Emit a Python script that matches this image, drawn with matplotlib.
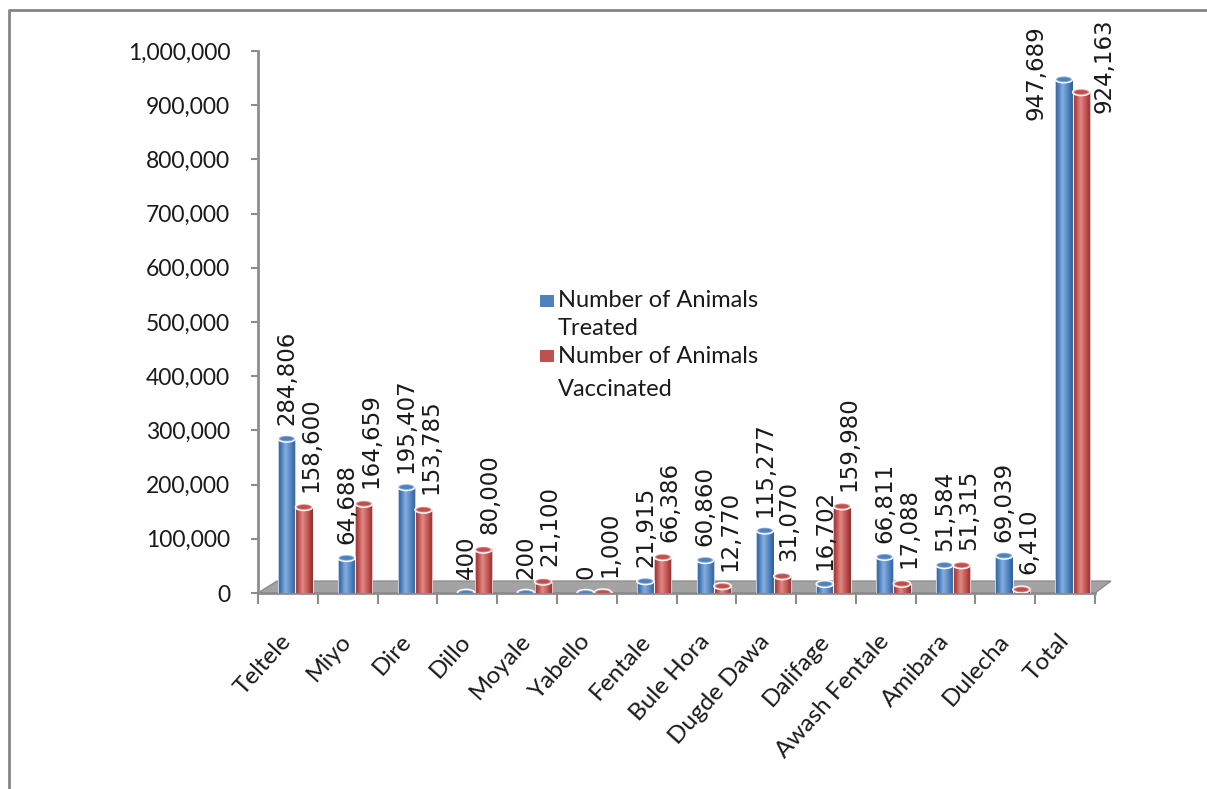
import matplotlib.pyplot as plt
import numpy as np
from matplotlib.colors import LinearSegmentedColormap
from matplotlib.patches import Ellipse, Polygon, Rectangle
from matplotlib.lines import Line2D

# data
districts = ['Teltele', 'Miyo', 'Dire', 'Dillo', 'Moyale', 'Yabello', 'Fentale',
             'Bule Hora', 'Dugde Dawa', 'Dalifage', 'Awash Fentale', 'Amibara',
             'Dulecha', 'Total']
treated = [284806, 64688, 195407, 400, 200, 0, 21915, 60860, 115277, 16702,
           66811, 51584, 69039, 947689]
vaccinated = [158600, 164659, 153785, 80000, 21100, 1000, 66386, 12770, 31070,
              159980, 17088, 51315, 6410, 924163]
series_names = ['Number of Animals\nTreated', 'Number of Animals\nVaccinated']

W, H = 1207, 789
BLUE = ('#2c5a94', '#4a7dbc', '#86aee0', '#4f81bd', '#2c5a94')
RED = ('#8a2b29', '#bd4c49', '#e08a87', '#c0504d', '#8a2b29')
GRID_GRAY = '#8c8c8c'
TXT = '#1a1a1a'

fig = plt.figure(figsize=(W / 100, H / 100), dpi=100)
fig.patch.set_facecolor('white')

# axes placed by pixel box of the reference plot area
x0, x1, y0, y1 = 258, 1095, 51, 593
ax = fig.add_axes([x0 / W, 1 - y1 / H, (x1 - x0) / W, (y1 - y0) / H])
ax.set_facecolor('none')

n = len(districts)
bw = 0.29
ymax = 1_000_000
cap_h = ymax * 7 / (y1 - y0)   # ellipse height ~7px


def cyl(xc, val, cols):
    cmap = LinearSegmentedColormap.from_list('c', list(zip([0, 0.18, 0.42, 0.75, 1], cols)))
    grad = np.linspace(0, 1, 64).reshape(1, -1)
    ax.imshow(grad, cmap=cmap, extent=[xc - bw / 2, xc + bw / 2, 0, val],
              aspect='auto', zorder=3, interpolation='bilinear')
    ax.plot([xc - bw / 2, xc - bw / 2], [0, val], color='white', lw=0.8, alpha=0.7, zorder=3.5)
    ax.plot([xc + bw / 2, xc + bw / 2], [0, val], color='white', lw=0.8, alpha=0.7, zorder=3.5)
    ax.add_patch(Ellipse((xc, val), bw, cap_h, facecolor=cols[2], edgecolor='white',
                         lw=1.0, zorder=4))
    ax.add_patch(Ellipse((xc, val), bw * 0.75, cap_h * 0.55, facecolor=cols[3],
                         edgecolor='none', zorder=4.1))


xs_t = np.arange(n) + 0.48
xs_v = xs_t + bw

for i in range(n):
    cyl(xs_t[i], treated[i], BLUE)
    cyl(xs_v[i], vaccinated[i], RED)

# data labels
for i in range(n):
    if i == n - 1:
        ax.text(xs_t[i] - 0.46, ymax * 0.872, f'{treated[i]:,}', rotation=90,
                ha='center', va='bottom', fontsize=16.5, color=TXT, clip_on=False)
        ax.text(xs_v[i] + 0.38, ymax * 0.885, f'{vaccinated[i]:,}', rotation=90,
                ha='center', va='bottom', fontsize=16.5, color=TXT, clip_on=False)
        continue
    ax.annotate(f'{treated[i]:,}', (xs_t[i], treated[i]), xytext=(0, 10),
                textcoords='offset points', rotation=90, ha='center', va='bottom',
                fontsize=16.5, color=TXT, zorder=5)
    ax.annotate(f'{vaccinated[i]:,}', (xs_v[i], vaccinated[i]), xytext=(5, 11),
                textcoords='offset points', rotation=90, ha='center', va='bottom',
                fontsize=16.5, color=TXT, zorder=5)

# 3d-ish floor
floor = Polygon([(0, 0), (1, 0), (1.019, 0.022), (0.0227, 0.022)], closed=True,
                transform=ax.transAxes, facecolor='#a3a3a3', edgecolor='#8a8a8a',
                lw=1, zorder=1, clip_on=False)
ax.add_patch(floor)

ax.set_xlim(0, n)
ax.set_ylim(0, ymax)

for s in ['top', 'right']:
    ax.spines[s].set_visible(False)
for s in ['left', 'bottom']:
    ax.spines[s].set_color(GRID_GRAY)
    ax.spines[s].set_linewidth(2)
    ax.spines[s].set_zorder(2)

ax.set_yticks(np.arange(0, ymax + 1, 100000))
ax.set_yticklabels([f'{v:,}' for v in range(0, ymax + 1, 100000)],
                   fontsize=16.5, color=TXT, family='Lato')
ax.tick_params(axis='y', direction='out', length=5, width=1.5, color=GRID_GRAY, pad=15)

ax.set_xticks(np.arange(0, n + 1))
ax.set_xticklabels([])
ax.tick_params(axis='x', which='major', direction='out', length=8, width=1.5, color=GRID_GRAY)
ax.set_xticks(np.arange(n) + 0.5, minor=True)
ax.set_xticklabels(districts, minor=True, rotation=48, ha='right', va='center',
                   rotation_mode='anchor', fontsize=17.5, color=TXT, family='Lato')
ax.tick_params(axis='x', which='minor', length=0, pad=32)

# legend drawn by hand (marker aligned with first line)
leg = [(BLUE[3], 295, [307, 335]), (RED[3], 350, [363, 396])]
for (col, sq_top, baselines), name in zip(leg, series_names):
    fig.patches.append(Rectangle((540 / W, 1 - (sq_top + 12) / H), 14 / W, 12 / H,
                                 transform=fig.transFigure, facecolor=col,
                                 edgecolor='none'))
    for line, b in zip(name.split('\n'), baselines):
        fig.text(558 / W, 1 - b / H, line, fontsize=17, family='Lato',
                 color=TXT, va='baseline', ha='left')

# outer frame: left and top edges
fig.lines.append(Line2D([9 / W, 9 / W, 1.0], [0, 1 - 10 / H, 1 - 10 / H],
                        transform=fig.transFigure, color='#858585', lw=2))

fig.savefig('out.png', dpi=100, facecolor='white')
